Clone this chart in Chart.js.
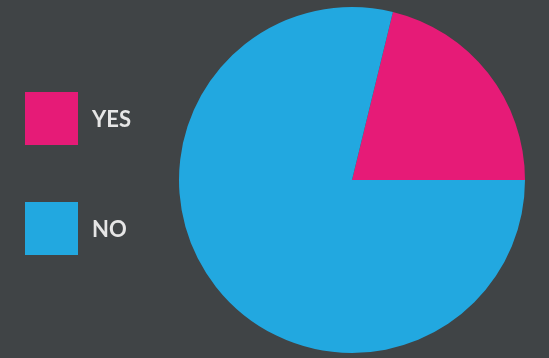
<!DOCTYPE html>
<html>
<head>
<meta charset="utf-8">
<script src="https://cdn.jsdelivr.net/npm/chart.js@4.4.1/dist/chart.umd.min.js"></script>
<style>
  html, body { margin: 0; padding: 0; background: #404446; }
  #wrap { width: 549px; height: 358px; }
</style>
</head>
<body>
<div id="wrap"><canvas id="pie"></canvas></div>
<script>
// answers and their share
const LABELS = ["YES", "NO"];
const VALUES = [21.2, 78.8];
const COLORS = ["#e61b77", "#22a8e0"];

const TEXT = "#e6e6e6";

// square swatches stacked on the left, drawn from the chart's own data
const sideLegend = {
  id: "sideLegend",
  afterDraw(chart) {
    const ctx = chart.ctx;
    const ds = chart.data.datasets[0];
    ctx.save();
    ctx.font = "bold 22px Lato, 'Open Sans', sans-serif";
    ctx.textBaseline = "middle";
    chart.data.labels.forEach((lab, i) => {
      const y = 92 + i * 110;
      ctx.fillStyle = ds.backgroundColor[i];
      ctx.fillRect(25, y, 53, 53);
      ctx.fillStyle = TEXT;
      ctx.fillText(lab, 92, y + 28);
    });
    ctx.restore();
  }
};

const total = VALUES.reduce((a, b) => a + b, 0);

new Chart(document.getElementById("pie"), {
  type: "pie",
  data: {
    labels: LABELS,
    datasets: [{ data: VALUES, backgroundColor: COLORS, borderWidth: 0 }]
  },
  options: {
    responsive: true,
    maintainAspectRatio: false,
    animation: false,
    // YES ends exactly at 3 o'clock
    rotation: 90 - (VALUES[0] / total) * 360,
    layout: { padding: { left: 179, right: 24, top: 7, bottom: 5 } },
    plugins: { legend: { display: false }, tooltip: { enabled: false } }
  },
  plugins: [sideLegend]
});
</script>
</body>
</html>
